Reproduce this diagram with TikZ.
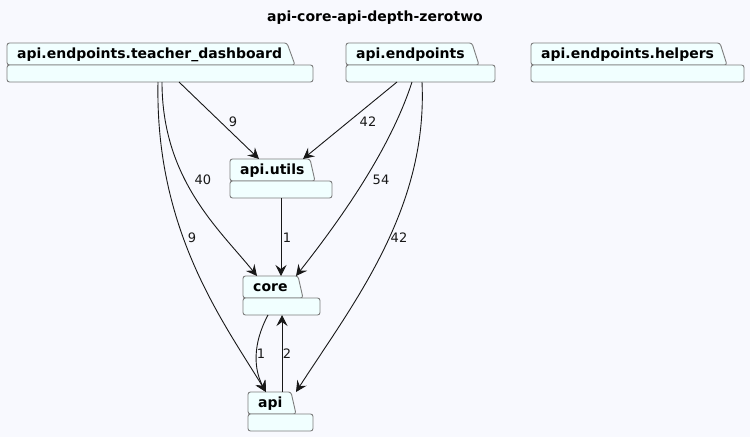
\documentclass[tikz,border=0pt]{standalone}
\usepackage{fontspec}
\setmainfont{DejaVu Sans}
\usetikzlibrary{arrows.meta,calc}
\definecolor{bgc}{RGB}{248,249,254}
\definecolor{pkfill}{RGB}{241,255,255}
\definecolor{pkline}{RGB}{125,125,125}
\definecolor{edgec}{RGB}{24,24,24}
\tikzset{
  pkgbox/.style={inner sep=0pt, outer sep=0pt, draw=none, anchor=north west},
  pkgshape/.style={draw=pkline, fill=pkfill, line width=0.9pt, rounded corners=2.5pt},
  pkgtext/.style={anchor=base west, inner sep=0pt, font=\fontsize{14}{16}\selectfont\bfseries},
  dep/.style={draw=edgec, line width=0.9pt, -{Stealth[length=11pt,width=11pt,inset=4pt]}},
  lbl/.style={inner sep=0pt, font=\fontsize{13}{15}\selectfont, text=edgec},
}
% name, label, x0, ytop, xtr, xtb, ybody, x1, ybot
\newcommand{\pkgdraw}[9]{%
  \node[pkgbox, minimum width={(#8-#3)*1pt}, minimum height={(#9-#4)*1pt}] (#1) at (#3,#4) {};
  \draw[pkgshape] (#3,#7) -- (#3,#4) -- (#5,#4) -- (#6,#7) -- cycle;
  \draw[pkgshape] (#3,#7) rectangle (#8,#9);
  \node[pkgtext] (#1-t) at (#3+10,#4+15) {#2};
}
\begin{document}
\begin{tikzpicture}[x=1pt,y=-1pt]
\useasboundingbox[fill=bgc] (0,0) rectangle (750,437);
\node[font=\fontsize{14}{16}\selectfont\bfseries] (title) at (375,18) {api-core-api-depth-zerotwo};

\pkgdraw{td}{api.endpoints.teacher\_dashboard}{7}{43}{287}{295}{65}{313}{82}
\pkgdraw{ep}{api.endpoints}{346}{43}{472}{479}{65}{495}{82}
\pkgdraw{hp}{api.endpoints.helpers}{531}{43}{720}{727}{65}{744}{82}
\pkgdraw{ut}{api.utils}{230}{159}{310}{315}{181}{332}{198}
\pkgdraw{co}{core}{243}{276}{298}{303}{298}{320}{315}
\pkgdraw{ap}{api}{248}{392}{291}{296}{414}{313}{431}

% edges
\draw[dep] ($(td.south west)+(172,0)$) -- ($(ut.north west)+(29,0)$);
\node[lbl] (l1) at (233,122) {9};
\draw[dep] ($(td.south west)+(155,0)$) .. controls (162,180) and (220,230) .. ($(co.north west)+(14,0)$);
\node[lbl] (l2) at (203,180) {40};
\draw[dep] ($(td.south west)+(151,0)$) .. controls (155,230) and (222,320) .. ($(ap.north west)+(18,0)$);
\node[lbl] (l3) at (192,238) {9};

\draw[dep] ($(ep.south west)+(51,0)$) -- ($(ut.north west)+(73,0)$);
\node[lbl] (l4) at (368,122) {42};
\draw[dep] ($(ep.south west)+(66,0)$) .. controls (390,150) and (340,220) .. ($(co.north west)+(53,0)$);
\node[lbl] (l5) at (381,180) {54};
\draw[dep] ($(ep.south west)+(76,0)$) .. controls (428,210) and (352,305) .. ($(ap.north west)+(48,0)$);
\node[lbl] (l6) at (399,238) {42};

\draw[dep] ($(ut.south west)+(51,0)$) -- ($(co.north west)+(38,0)$);
\node[lbl] (l7) at (287,238) {1};

\draw[dep] ($(co.south west)+(25,0)$) .. controls (252,345) and (254,370) .. ($(ap.north west)+(18,0)$);
\node[lbl] (l8) at (261,354) {1};
\draw[dep] ($(ap.north west)+(34,0)$) -- ($(co.south west)+(39,0)$);
\node[lbl] (l9) at (287,354) {2};
\end{tikzpicture}
\end{document}
